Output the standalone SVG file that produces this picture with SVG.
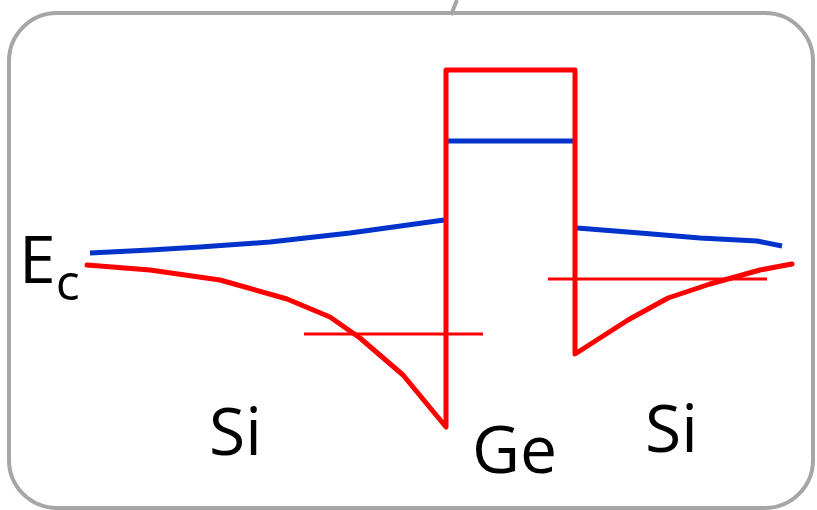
<svg xmlns="http://www.w3.org/2000/svg" width="817" height="510" viewBox="0 0 817 510">
<style>
.frame{fill:none;stroke:#A6A6A6;stroke-width:4}
.red{fill:none;stroke:#FF0000;stroke-width:5;stroke-linejoin:round;stroke-linecap:round}
.thin{fill:none;stroke:#FF0000;stroke-width:3}
.blue{fill:none;stroke:#0033CC;stroke-width:5;stroke-linejoin:round}
.lbl{font-family:"Open Sans","Noto Sans",sans-serif;fill:#000;font-size:66px}
</style>
<rect width="817" height="510" fill="#fff"/>
<g id="frame">
<rect class="frame" x="9" y="13" width="804" height="495" rx="48" ry="48"/>
<line x1="451" y1="15" x2="457" y2="0" stroke="#A6A6A6" stroke-width="4"/>
</g>
<g id="connectors">
<polyline class="blue" points="90,253 150,250 200,247 270,242 350,233 444,220"/>
<line class="blue" x1="448" y1="141" x2="573" y2="141"/>
<polyline class="blue" points="577,228 640,233 700,238 757,241 782,246"/>
<polyline class="red" points="87,265 150,270 220,280 287,299 330,317 360,338 403,375 446,427 446,70 575,70 575,354 628,320 668,298 710,284 760,270 792,264"/>
<line class="thin" x1="304" y1="334" x2="483" y2="334"/>
<line class="thin" x1="548" y1="279" x2="767" y2="279"/>
</g>
<g id="label-ec">
<text class="lbl" x="19" y="283">E<tspan font-size="50" dy="17">c</tspan></text>
</g>
<g id="label-si-left"><text class="lbl" x="209" y="455">Si</text></g>
<g id="label-ge"><text class="lbl" x="472" y="473">Ge</text></g>
<g id="label-si-right"><text class="lbl" x="645" y="452">Si</text></g>
</svg>
